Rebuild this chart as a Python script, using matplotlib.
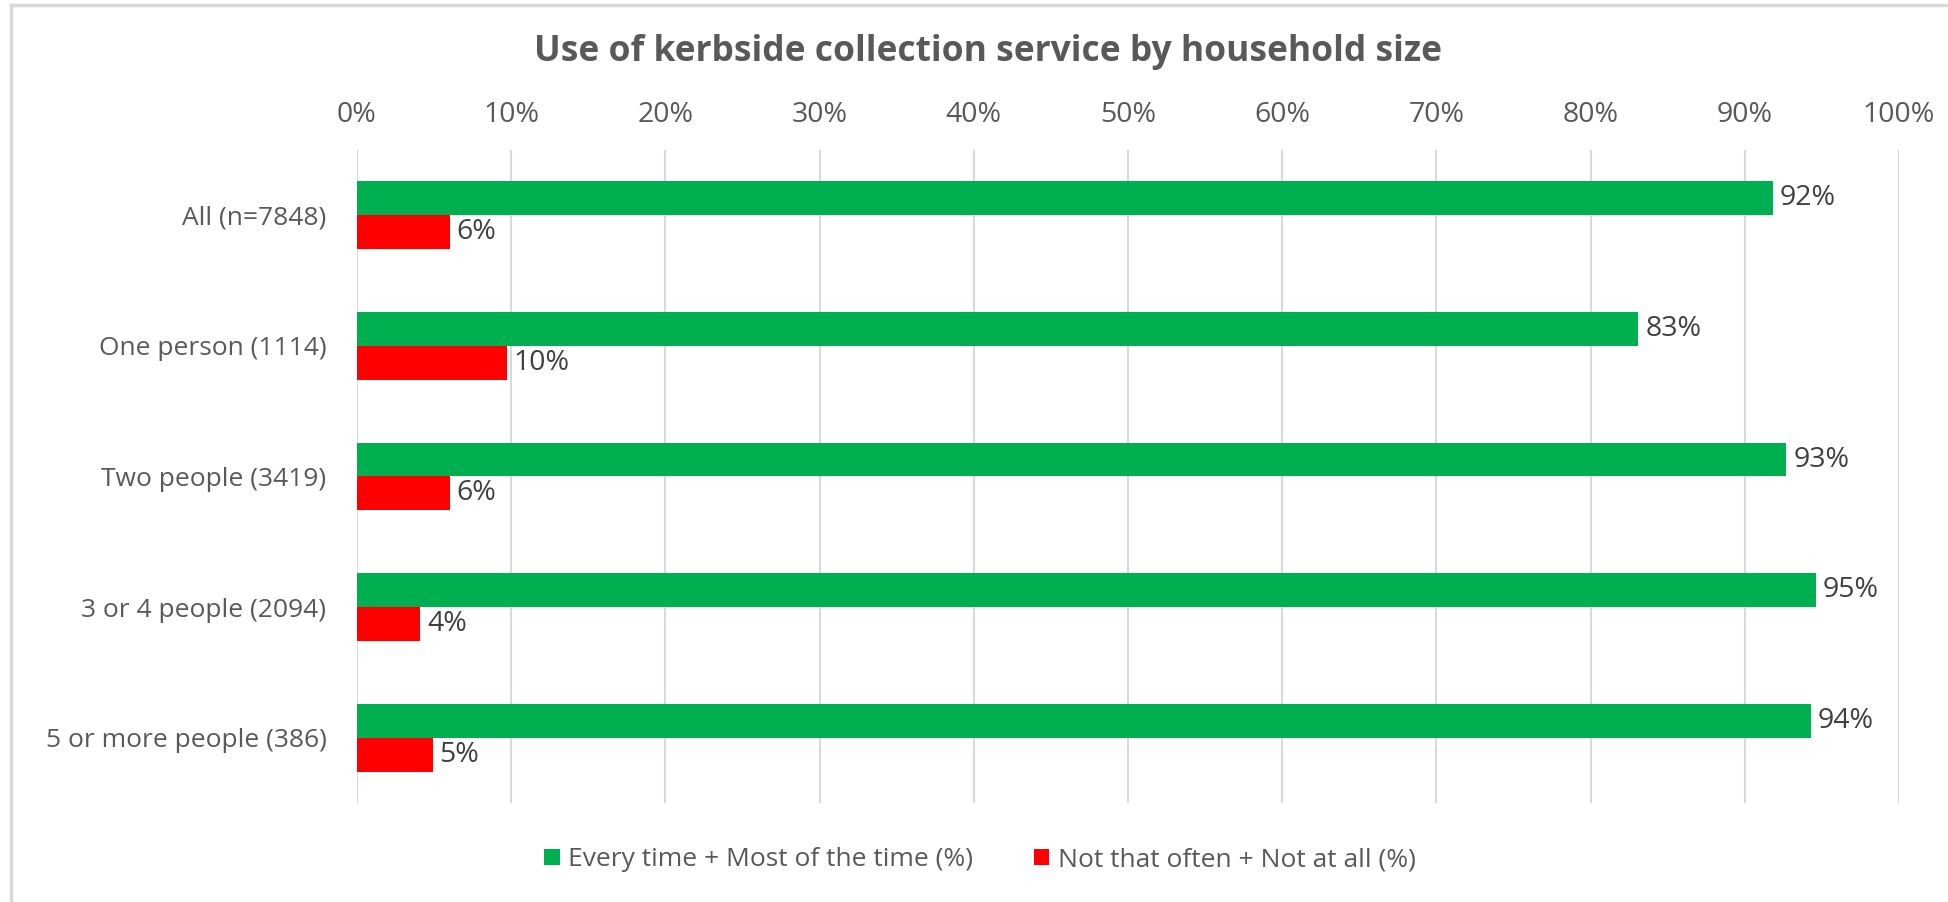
import matplotlib
matplotlib.use("Agg")
import matplotlib.pyplot as plt
from matplotlib.lines import Line2D
from matplotlib.patches import Patch
import numpy as np

categories = ["All (n=7848)", "One person (1114)", "Two people (3419)",
              "3 or 4 people (2094)", "5 or more people (386)"]
often = [91.8, 83.1, 92.7, 94.6, 94.3]
rarely = [6.0, 9.7, 6.0, 4.1, 4.9]
often_labels = ["92%", "83%", "93%", "95%", "94%"]
rarely_labels = ["6%", "10%", "6%", "4%", "5%"]
series_names = ["Every time + Most of the time (%)", "Not that often + Not at all (%)"]
xticks = [0, 10, 20, 30, 40, 50, 60, 70, 80, 90, 100]
xtick_labels = [f"{t}%" for t in xticks]
title = "Use of kerbside collection service by household size"

GREEN = "#00B050"
RED = "#FF0000"
FONT = "Open Sans"

fig = plt.figure(figsize=(19.49, 9.02), dpi=100)
ax = fig.add_axes([357/1949, 1 - 803/902, (1899-357)/1949, (803-150)/902])

y = np.arange(len(categories))
h = 0.26
ax.barh(y - h/2, often, height=h, color=GREEN, zorder=3)
ax.barh(y + h/2, rarely, height=h, color=RED, zorder=3)

for yi, v, lab in zip(y, often, often_labels):
    ax.annotate(lab, (v, yi - h/2), xytext=(7, 0), textcoords="offset pixels",
                ha="left", va="center", fontsize=20.5, color="#404040", family=FONT)
for yi, v, lab in zip(y, rarely, rarely_labels):
    ax.annotate(lab, (v, yi + h/2), xytext=(7, 0), textcoords="offset pixels",
                ha="left", va="center", fontsize=20.5, color="#404040", family=FONT)

ax.set_xlim(0, 100)
ax.set_ylim(len(categories) - 0.5, -0.5)
ax.set_xticks(xticks)
ax.set_xticklabels(xtick_labels, family=FONT, fontsize=20.5, color="#595959")
ax.set_yticks(y)
ax.set_yticklabels(categories, family=FONT, fontsize=19, color="#595959")
ax.xaxis.tick_top()
ax.tick_params(axis="x", length=0, pad=15)
ax.tick_params(axis="y", length=0, pad=22)
ax.grid(axis="x", color="#D9D9D9", linewidth=1.5, zorder=0)
for s in ax.spines.values():
    s.set_visible(False)

fig.text(988/1949, 1 - 52/902, title, ha="center", va="center",
         fontsize=25.5, fontweight="bold", color="#595959", family=FONT)

handles = [Patch(facecolor=GREEN), Patch(facecolor=RED)]
fig.legend(handles, series_names, loc="center", bbox_to_anchor=(980/1949, 1 - 860/902),
           ncol=2, frameon=False, prop={"family": FONT, "size": 19},
           labelcolor="#595959", handlelength=0.57, handleheight=0.57,
           handletextpad=0.33, columnspacing=2.3, borderpad=0)

# chart area border (top & left)
fig.add_artist(Line2D([10.5/1949, 1], [1 - 4.5/902, 1 - 4.5/902], color="#D9D9D9", linewidth=2.5))
fig.add_artist(Line2D([10.5/1949, 10.5/1949], [0, 1 - 4.5/902], color="#D9D9D9", linewidth=2.5))

fig.savefig("out.png", dpi=100, facecolor="white")
